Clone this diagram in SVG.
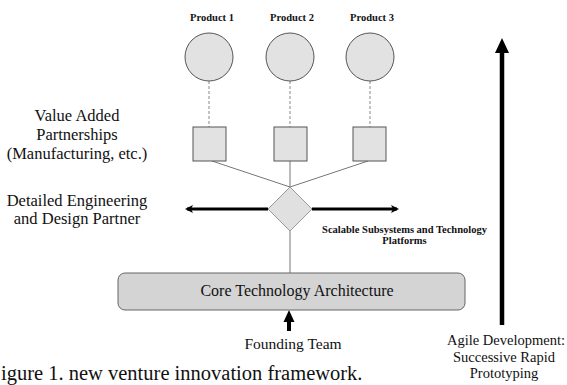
<svg xmlns="http://www.w3.org/2000/svg" width="567" height="385" viewBox="0 0 567 385">
<defs>
<style>
text{font-family:"Liberation Serif","Times New Roman",serif;fill:#111;}
.prod{font-size:10.5px;font-weight:bold;text-anchor:middle;}
.lbl{font-size:16.5px;text-anchor:middle;}
.sm{font-size:10.5px;font-weight:bold;text-anchor:middle;}
.mid{font-size:15.5px;text-anchor:middle;}
.shape{fill:#e2e2e2;stroke:#555;stroke-width:1;}
.dash{stroke:#888;stroke-width:1;stroke-dasharray:3 2;fill:none;}
.thin{stroke:#777;stroke-width:1;fill:none;}
.thick{stroke:#000;fill:none;}
</style>
<marker id="ah" markerWidth="8" markerHeight="8" refX="6" refY="4" orient="auto" markerUnits="userSpaceOnUse">
<path d="M0,0 L8,4 L0,8 L2,4 Z" fill="#000"/>
</marker>
</defs>
<rect width="567" height="385" fill="#fff"/>
<g id="connectors">
<line class="dash" x1="209" y1="81" x2="209" y2="127"/>
<line class="dash" x1="290" y1="81" x2="290" y2="127"/>
<line class="dash" x1="370" y1="81" x2="370" y2="127"/>
<line class="thin" x1="212" y1="161" x2="290" y2="187"/>
<line class="thin" x1="290" y1="161" x2="290" y2="187"/>
<line class="thin" x1="368" y1="161" x2="290" y2="187"/>
<line class="thin" x1="290" y1="231" x2="290" y2="273"/>
<line class="thick" stroke-width="3" x1="268" y1="209" x2="187" y2="209" marker-end="url(#ah)"/>
<line class="thick" stroke-width="3" x1="312" y1="209" x2="397" y2="209" marker-end="url(#ah)"/>
<g id="founding-arrow">
<line class="thick" stroke-width="4" x1="289" y1="331" x2="289" y2="320"/>
<path d="M289,310 L294.5,322 L283.5,322 Z" fill="#000"/>
</g>
<g id="agile-arrow">
<line class="thick" stroke-width="4.5" x1="502" y1="325" x2="502" y2="51"/>
<path d="M502,38 L509,53 L495,53 Z" fill="#000"/>
</g>
</g>
<g id="product1"><circle class="shape" cx="209" cy="57" r="24"/><text class="prod" x="212" y="21">Product 1</text></g>
<g id="product2"><circle class="shape" cx="290" cy="57" r="24"/><text class="prod" x="292" y="21">Product 2</text></g>
<g id="product3"><circle class="shape" cx="370" cy="57" r="24"/><text class="prod" x="372" y="21">Product 3</text></g>
<g id="partner1"><rect class="shape" x="193" y="127" width="33" height="34"/></g>
<g id="partner2"><rect class="shape" x="274" y="127" width="33" height="34"/></g>
<g id="partner3"><rect class="shape" x="353" y="127" width="33" height="34"/></g>
<g id="hub"><path d="M290,187 L312,209 L290,231 L268,209 Z" fill="#e0e0e0" stroke="#999" stroke-width="1"/></g>
<g id="core"><rect x="118" y="273" width="347" height="37" rx="7" fill="#d4d4d4" stroke="#666" stroke-width="1"/><text x="297" y="296" font-size="16" text-anchor="middle">Core Technology Architecture</text></g>
<g id="labels">
<text class="lbl" x="77" y="121">Value Added</text>
<text class="lbl" x="77" y="140">Partnerships</text>
<text class="lbl" x="77" y="159">(Manufacturing, etc.)</text>
<text class="lbl" x="77" y="206">Detailed Engineering</text>
<text class="lbl" x="77" y="224">and Design Partner</text>
<text class="sm" x="404.5" y="233">Scalable Subsystems and Technology</text>
<text class="sm" x="404.5" y="244">Platforms</text>
<text class="mid" x="293" y="349">Founding Team</text>
<text x="506" y="345" font-size="14.5" text-anchor="middle">Agile Development:</text>
<text x="504" y="362" font-size="14.5" text-anchor="middle">Successive Rapid</text>
<text x="504" y="378" font-size="14.5" text-anchor="middle">Prototyping</text>
<text x="1" y="380" font-size="20.5">igure 1. new venture innovation framework.</text>
</g>
</svg>
